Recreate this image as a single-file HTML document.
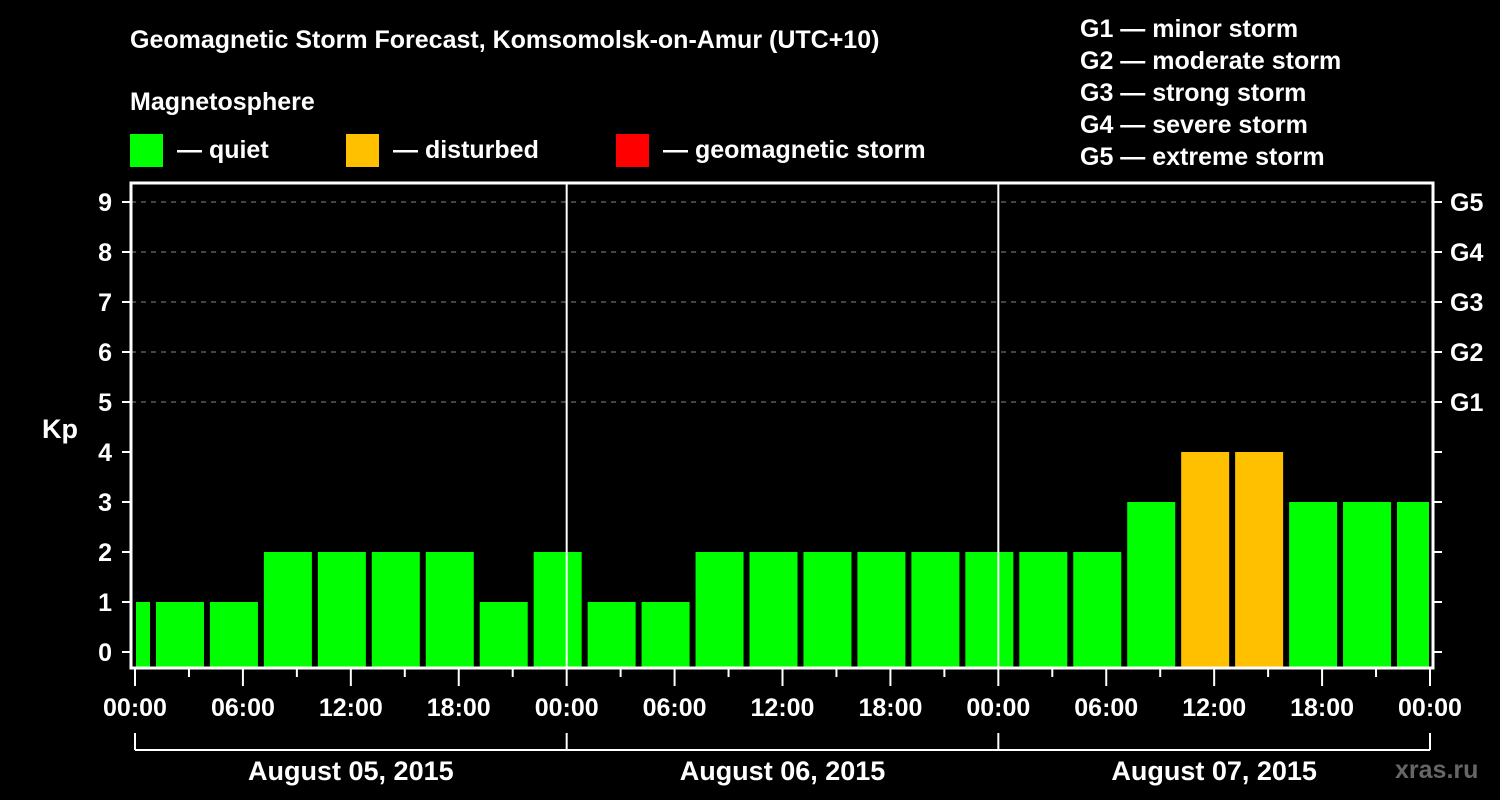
<!DOCTYPE html>
<html><head><meta charset="utf-8"><style>
html,body{margin:0;padding:0;background:#000;}
svg{display:block;font-family:"Liberation Sans",Arial,sans-serif;font-weight:bold;}
</style></head><body>
<svg id="chart" width="1500" height="800" viewBox="0 0 1500 800">
<text x="130" y="48" fill="#fff" font-size="25">Geomagnetic Storm Forecast, Komsomolsk-on-Amur (UTC+10)</text>
<text x="130" y="110" fill="#fff" font-size="25">Magnetosphere</text>
<g><rect x="130" y="134" width="33" height="33" fill="#00ff00"/><text x="177" y="158" fill="#fff" font-size="25">— quiet</text></g>
<g><rect x="346" y="134" width="33" height="33" fill="#ffc000"/><text x="393" y="158" fill="#fff" font-size="25">— disturbed</text></g>
<g><rect x="616" y="134" width="33" height="33" fill="#ff0000"/><text x="663" y="158" fill="#fff" font-size="25">— geomagnetic storm</text></g>
<g fill="#fff" font-size="25">
<text x="1080" y="37">G1 — minor storm</text>
<text x="1080" y="69">G2 — moderate storm</text>
<text x="1080" y="101">G3 — strong storm</text>
<text x="1080" y="133">G4 — severe storm</text>
<text x="1080" y="165">G5 — extreme storm</text>
</g>
<text x="42" y="438" fill="#fff" font-size="27">Kp</text>
<g id="grid"></g><g id="bars"></g><g id="axes"></g>
<text x="1395" y="778" fill="#666" font-size="25">xras.ru</text>
</svg>
<script>
const kpValues=[1,1,1,2,2,2,2,1,2,1,1,2,2,2,2,2,2,2,2,3,4,4,3,3,3];
const yTicks=["0","1","2","3","4","5","6","7","8","9"];
const gLabels=["G1","G2","G3","G4","G5"];
const hourLabels=["00:00","06:00","12:00","18:00"];
const dayLabels=["August 05, 2015","August 06, 2015","August 07, 2015"];
const NS="http://www.w3.org/2000/svg";
const L=131,R=1433,T=183,B=668,X0=135,PXH=(1430-135)/72;
const y=v=>652-v*50;
const x=h=>X0+h*PXH;
function mk(p,t,a,txt){const e=document.createElementNS(NS,t);for(const k in a)e.setAttribute(k,a[k]);if(txt!=null)e.textContent=txt;p.appendChild(e);return e;}
const grid=document.getElementById('grid'),bars=document.getElementById('bars'),axes=document.getElementById('axes');
for(let v=5;v<=9;v++){const l=mk(grid,'line',{x1:L,x2:R,y1:y(v),y2:y(v),stroke:'#888','stroke-dasharray':'5,5','stroke-width':1});

}
kpValues.forEach((v,k)=>{const c=x(3*k-0.5);let x0=Math.max(c-24,136),x1=Math.min(c+24,1429);
const col=v>=5?'#ff0000':(v>=4?'#ffc000':'#00ff00');
const r=mk(bars,'rect',{x:x0,y:y(v),width:x1-x0,height:B-y(v),fill:col});

});
[1,2].forEach(d=>{const l=mk(axes,'line',{x1:x(24*d),x2:x(24*d),y1:T,y2:B,stroke:'#fff','stroke-width':2});

});
const fr=mk(axes,'rect',{x:L,y:T,width:R-L,height:B-T,fill:'none',stroke:'#fff','stroke-width':3});


yTicks.forEach((t,i)=>{mk(axes,'line',{x1:122,x2:L,y1:y(i),y2:y(i),stroke:'#fff','stroke-width':2});
mk(axes,'line',{x1:R,x2:1442,y1:y(i),y2:y(i),stroke:'#fff','stroke-width':2});
const tx=mk(axes,'text',{x:112,y:y(i)+9,fill:'#fff','font-size':25,'text-anchor':'end'},t);

});
gLabels.forEach((g,i)=>{const tx=mk(axes,'text',{x:1450,y:y(5+i)+9,fill:'#fff','font-size':25},g);

});
for(let h=0;h<=72;h+=3){const long=h%6===0;mk(axes,'line',{x1:x(h),x2:x(h),y1:B,y2:B+(long?18:9),stroke:'#fff','stroke-width':2});
if(long){const tx=mk(axes,'text',{x:x(h),y:716,fill:'#fff','font-size':25,'text-anchor':'middle'},hourLabels[(h/6)%4]);

}}
mk(axes,'line',{x1:x(0),x2:x(72),y1:750,y2:750,stroke:'#fff','stroke-width':2});
for(let d=0;d<=3;d++)mk(axes,'line',{x1:x(24*d),x2:x(24*d),y1:733,y2:750,stroke:'#fff','stroke-width':2});
dayLabels.forEach((t,d)=>{const tx=mk(axes,'text',{x:x(24*d+12),y:780,fill:'#fff','font-size':27,'text-anchor':'middle'},t);

});
</script>
</body></html>
